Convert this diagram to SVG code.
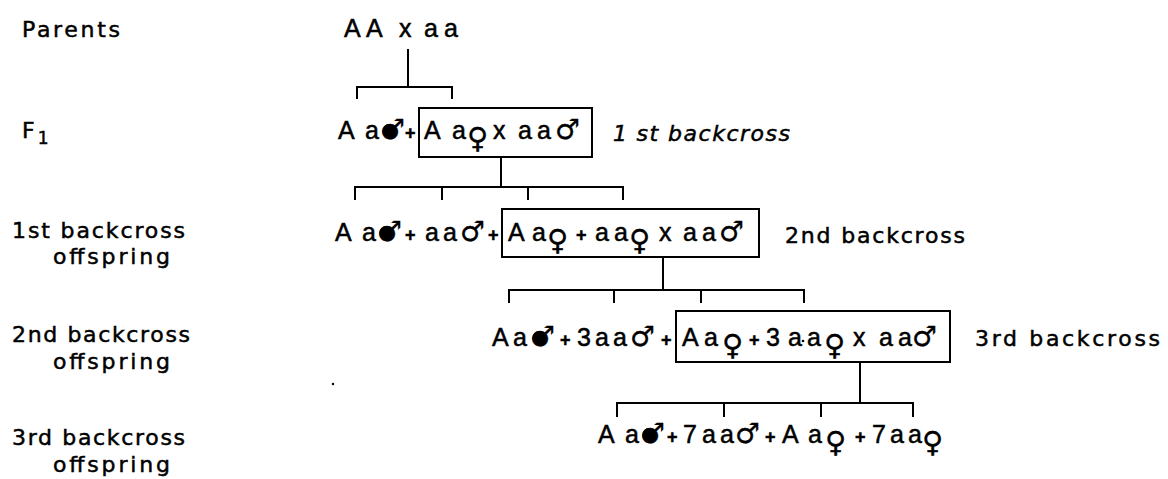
<svg xmlns="http://www.w3.org/2000/svg" width="1168" height="479" viewBox="0 0 1168 479">
<style>
.lbl{font-family:"DejaVu Sans","Liberation Sans",sans-serif;font-size:22px;fill:#000;stroke:#000;stroke-width:0.5}
.f{font-family:"Liberation Sans",Arial,sans-serif;font-size:25px;fill:#000;stroke:#000;stroke-width:0.5}
.s{font-family:"DejaVu Sans",sans-serif;font-size:28px;stroke-width:0.3}
.v{font-family:"DejaVu Sans",sans-serif;font-size:29px;stroke-width:0.3}
.p{font-size:18px;font-weight:bold}
.ln{fill:none;stroke:#000;stroke-width:2;stroke-linecap:square}
.box{fill:none;stroke:#000;stroke-width:2}
.dot{fill:#000}
</style>
<rect width="1168" height="479" fill="#fff"/>
<g id="row-labels">
<text class="lbl" x="22" y="37" textLength="98" lengthAdjust="spacing">Parents</text>
<text class="lbl" x="22" y="138" font-size="24">F<tspan font-size="17" dy="6" dx="3">1</tspan></text>
<text class="lbl" x="12" y="238" textLength="173" lengthAdjust="spacing">1st backcross</text>
<text class="lbl" x="53" y="264" textLength="117" lengthAdjust="spacing">offspring</text>
<text class="lbl" x="12" y="342" textLength="178" lengthAdjust="spacing">2nd backcross</text>
<text class="lbl" x="53" y="369" textLength="117" lengthAdjust="spacing">offspring</text>
<text class="lbl" x="12" y="445" textLength="173" lengthAdjust="spacing">3rd backcross</text>
<text class="lbl" x="53" y="472" textLength="117" lengthAdjust="spacing">offspring</text>
</g>
<g id="parents">
<text class="f" y="37"><tspan x="344">A</tspan><tspan x="366">A</tspan><tspan x="399">x</tspan><tspan x="424">a</tspan><tspan x="444">a</tspan></text>
</g>
<g id="f1">
<text class="f" y="139"><tspan x="338">A</tspan><tspan x="365">a</tspan><tspan class="s" x="380">♂</tspan><tspan class="p" x="405">+</tspan></text>
<circle class="dot" cx="389.3" cy="131" r="7"/>
</g>
<g id="backcross-1">
<rect class="box" x="419" y="108" width="173" height="49"/>
<text class="f" y="139"><tspan x="424">A</tspan><tspan x="452">a</tspan><tspan class="v" x="467" y="148">♀</tspan><tspan x="493" y="139">x</tspan><tspan x="518">a</tspan><tspan x="537">a</tspan><tspan class="s" x="555">♂</tspan></text>
<text class="lbl" x="613" y="141" font-style="italic" textLength="177" lengthAdjust="spacing"><tspan>1</tspan><tspan dx="8">st backcross</tspan></text>
</g>
<g id="offspring-1">
<text class="f" y="241"><tspan x="335">A</tspan><tspan x="362">a</tspan><tspan class="s" x="377">♂</tspan><tspan class="p" x="405">+</tspan><tspan x="425">a</tspan><tspan x="443">a</tspan><tspan class="s" x="460">♂</tspan><tspan class="p" x="488">+</tspan></text>
<circle class="dot" cx="386.3" cy="233" r="7"/>
</g>
<g id="backcross-2">
<rect class="box" x="502" y="209" width="257" height="48"/>
<text class="f" y="241"><tspan x="508">A</tspan><tspan x="532">a</tspan><tspan class="v" x="547" y="250">♀</tspan><tspan class="p" x="576" y="241">+</tspan><tspan x="595">a</tspan><tspan x="614">a</tspan><tspan class="v" x="629" y="250">♀</tspan><tspan x="659" y="241">x</tspan><tspan x="683">a</tspan><tspan x="702">a</tspan><tspan class="s" x="719">♂</tspan></text>
<text class="lbl" x="785" y="243" textLength="180" lengthAdjust="spacing">2nd backcross</text>
</g>
<g id="offspring-2">
<text class="f" y="346"><tspan x="492">A</tspan><tspan x="513">a</tspan><tspan class="s" x="530">♂</tspan><tspan class="p" x="560">+</tspan><tspan x="577">3</tspan><tspan x="595">a</tspan><tspan x="613">a</tspan><tspan class="s" x="630">♂</tspan><tspan class="p" x="661">+</tspan></text>
<circle class="dot" cx="539.3" cy="338" r="7"/>
</g>
<g id="backcross-3">
<rect class="box" x="676" y="311" width="274" height="51"/>
<text class="f" y="346"><tspan x="682">A</tspan><tspan x="704">a</tspan><tspan class="v" x="722" y="355">♀</tspan><tspan class="p" x="749" y="346">+</tspan><tspan x="766">3</tspan><tspan x="788">a</tspan><tspan x="807">a</tspan><tspan class="v" x="824" y="355">♀</tspan><tspan x="853" y="346">x</tspan><tspan x="879">a</tspan><tspan x="898">a</tspan><tspan class="s" x="912">♂</tspan></text>
<circle class="dot" cx="803" cy="341" r="1.3"/>
<text class="lbl" x="975" y="346" textLength="185" lengthAdjust="spacing">3rd backcross</text>
</g>
<g id="offspring-3">
<text class="f" y="443"><tspan x="598">A</tspan><tspan x="625">a</tspan><tspan class="s" x="640">♂</tspan><tspan class="p" x="667">+</tspan><tspan x="683">7</tspan><tspan x="702">a</tspan><tspan x="720">a</tspan><tspan class="s" x="735">♂</tspan><tspan class="p" x="765">+</tspan><tspan x="782">A</tspan><tspan x="808">a</tspan><tspan class="v" x="825" y="452">♀</tspan><tspan class="p" x="855" y="443">+</tspan><tspan x="872">7</tspan><tspan x="890">a</tspan><tspan x="908">a</tspan><tspan class="v" x="922" y="452">♀</tspan></text>
<circle class="dot" cx="649.3" cy="435" r="7"/>
</g>
<g id="connectors">
<path class="ln" d="M408 50V87M357 98V87H452V98"/>
<path class="ln" d="M501 157V187M355 199V187H623V199M442 187V199M528 187V199"/>
<path class="ln" d="M663 257V290M509 302V290H804V302M614 290V302M701 290V302"/>
<path class="ln" d="M860 362V403M617 416V403H913V416M724 403V416M821 403V416"/>
</g>
<circle class="dot" cx="333" cy="384" r="1.2"/>
</svg>
